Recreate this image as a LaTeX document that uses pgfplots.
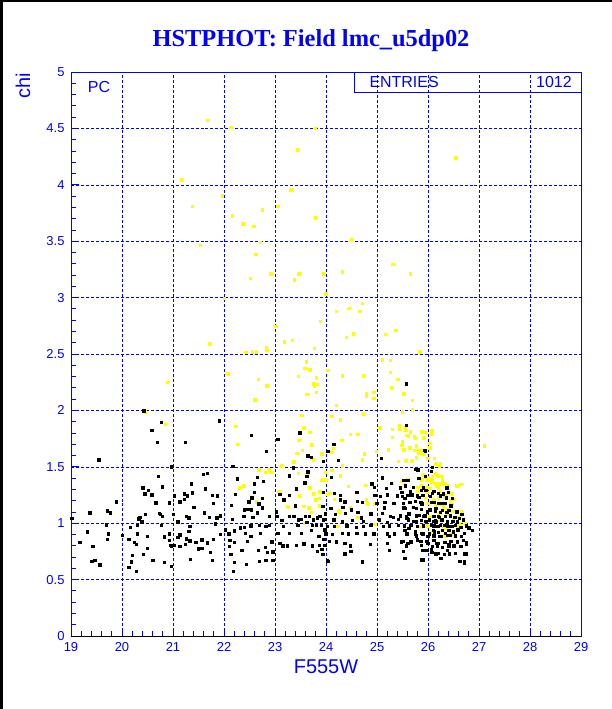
\documentclass[border=0pt]{standalone}
\usepackage{pgfplots}
\pgfplotsset{compat=1.18}
\usepackage{fontspec}
\setmainfont{Liberation Sans}
\newfontfamily\titlefont{Liberation Serif}
\definecolor{pawblue}{RGB}{0,0,255}
\definecolor{pawyellow}{RGB}{255,255,0}
\begin{document}
\begin{tikzpicture}
\useasboundingbox (0,0) rectangle (612bp,709bp);
\fill[white] (0,0) rectangle (612bp,709bp);
\fill[black] (0,0) rectangle (3bp,709bp);
\fill[black] (0,707bp) rectangle (612bp,709bp);
\node[anchor=base, text=pawblue, font=\titlefont\bfseries\fontsize{24.5}{28}\selectfont, inner sep=0] at (311bp,662bp) {HSTPHOT: Field lmc\_u5dp02};
\node[rotate=90, anchor=east, text=pawblue, font=\fontsize{20}{22}\selectfont, inner sep=0] at (23bp,636bp) {chi};
\begin{axis}[
  at={(71bp,73bp)}, anchor=south west, scale only axis, width=510bp, height=564bp,
  xmin=19, xmax=29, ymin=0, ymax=5,
  xtick={19,20,...,29}, ytick={0,0.5,...,5},
  minor x tick num=4, minor y tick num=4,
  tick align=inside, tick pos=left,
  major tick length=8bp, minor tick length=5bp,
  every tick/.style={pawblue, line width=0.8pt},
  axis line style={pawblue, line width=0.8pt},
  grid=major, major grid style={pawblue, densely dashed, line width=0.6pt},
  ticklabel style={text=pawblue, font=\fontsize{13}{15}\selectfont},
  xticklabel style={yshift=-3bp},
  yticklabel style={xshift=-3bp},
  /pgf/number format/assume math mode=true,
  xlabel={F555W}, xlabel style={text=pawblue, font=\fontsize{20}{22}\selectfont, yshift=-1bp},
  clip=false,
]
\addplot[only marks, mark=square*, mark size=1.2pt, mark options={draw=pawyellow, fill=pawyellow, line width=0pt}] coordinates {
(20.46,1.985)(20.89,2.246)(20.85,1.873)
(22.85,2.219)(23.75,2.234)(23.83,2.228)(23.77,2.216)(23.63,2.139)(23.81,2.157)(22.61,2.092)(23.53,1.953)(22.23,1.856)(23.57,1.844)(23.69,1.803)(23.47,1.735)(23.71,1.693)(22.27,1.696)(23.54,1.643)(23.43,1.619)(23.92,1.614)(23.75,1.560)(23.37,1.543)(23.14,1.507)(22.68,1.472)(22.70,1.472)(22.89,1.472)(22.82,1.448)(22.92,1.448)(23.99,1.451)(23.46,1.442)(23.63,1.430)(23.92,1.380)(23.99,1.383)(22.39,1.330)(22.31,1.312)(23.69,1.312)(23.08,1.277)(23.88,1.277)(23.75,1.259)(24.03,1.256)(23.48,1.241)(23.87,1.220)(23.79,1.206)(22.64,1.188)(23.57,1.149)(23.67,1.135)(23.27,1.138)(23.24,1.147)(23.87,1.152)(23.71,1.093)(23.58,0.999)
(25.29,2.196)(24.79,2.145)(24.94,2.157)(24.79,2.128)(24.94,2.104)(25.53,2.145)(25.70,2.086)(24.20,2.045)(25.70,2.004)(25.50,1.986)(24.74,1.968)(24.11,1.944)(24.29,1.915)(25.44,1.862)(25.44,1.832)(25.56,1.850)(25.06,1.844)(25.30,1.832)(25.66,1.808)(25.87,1.808)(24.48,1.785)(24.63,1.785)(25.59,1.779)(25.30,1.761)(25.74,1.767)(24.31,1.732)(25.50,1.720)(25.49,1.690)(26.05,1.708)(25.65,1.667)(24.15,1.661)(24.11,1.625)(25.54,1.655)(25.23,1.649)(25.74,1.643)(25.82,1.619)(24.75,1.614)(24.99,1.637)(25.91,1.614)(26.00,1.572)(24.71,1.560)(25.42,1.549)(25.58,1.549)(25.70,1.555)(26.16,1.519)(24.32,1.507)(24.12,1.466)(24.00,1.377)(23.94,1.383)(24.28,1.418)(25.90,1.430)(25.96,1.407)(26.19,1.418)(26.27,1.413)(25.30,1.353)(25.48,1.371)(25.61,1.383)(24.78,1.336)(24.44,1.324)(25.88,1.330)(25.80,1.318)(25.80,1.282)(25.98,1.318)(26.08,1.365)(26.16,1.348)(26.21,1.324)(26.34,1.342)(24.07,1.265)(24.03,1.253)(26.24,1.282)(24.17,1.212)(24.79,1.206)(25.95,1.218)(26.21,1.224)(26.44,1.200)(24.81,1.170)(24.96,1.170)(24.48,1.135)(25.70,1.141)(26.15,1.158)(26.30,1.135)(24.24,1.111)(24.27,1.099)(24.63,1.052)(24.96,0.987)(24.23,0.970)(25.99,0.981)
(25.53,2.145)(25.50,1.989)(25.57,1.820)(25.88,1.808)(25.96,1.803)(26.08,1.820)(26.07,1.791)(25.62,1.767)(25.75,1.749)(25.92,1.755)(25.50,1.690)(25.77,1.684)(25.79,1.643)(26.04,1.708)(26.04,1.667)(25.53,1.649)(25.87,1.643)(25.91,1.614)(25.69,1.549)(25.77,1.578)(26.13,1.572)(25.57,1.555)(26.17,1.525)(26.23,1.507)(26.25,1.525)(27.11,1.684)(25.92,1.424)(26.00,1.407)(25.88,1.383)(25.98,1.377)(26.09,1.413)(26.08,1.383)(26.15,1.436)(26.21,1.418)(26.29,1.383)(26.23,1.348)(26.17,1.330)(26.20,1.306)(26.30,1.348)(26.38,1.330)(26.57,1.330)(26.65,1.342)(25.54,1.342)(25.80,1.318)(26.04,1.306)(25.98,1.271)(26.33,1.247)(26.47,1.259)(26.12,1.212)(26.21,1.218)(26.32,1.229)(26.50,1.212)(26.00,1.176)(26.23,1.164)(26.44,1.176)(26.47,1.164)(26.15,1.129)(26.30,1.147)(26.38,1.123)(26.49,1.105)(26.66,1.105)(26.23,1.082)(26.37,1.082)(26.04,1.058)(26.61,1.052)(26.21,1.028)(26.50,1.023)(26.74,0.993)(25.95,0.975)(26.00,0.970)(26.28,0.970)(26.34,0.957)(26.58,0.970)(26.61,0.993)(25.83,0.970)(26.30,0.886)(26.36,0.881)(26.45,0.904)(26.07,0.916)
(21.68,4.569)(22.14,4.510)(23.79,4.498)(23.44,4.309)(21.17,4.043)(23.31,3.954)(21.97,3.901)(21.38,3.806)(22.76,3.777)(23.06,3.806)(23.79,3.706)(22.17,3.724)(22.37,3.653)(22.59,3.629)(22.71,3.487)(21.54,3.464)(22.63,3.381)(22.92,3.209)(23.47,3.209)(22.52,3.171)(23.38,3.156)(22.01,2.994)(23.02,2.743)(23.89,2.790)(21.72,2.589)(23.34,2.618)(23.19,2.607)(23.77,2.548)(22.83,2.554)(22.84,2.530)(22.43,2.512)(22.56,2.518)(22.64,2.518)(23.62,2.429)(23.59,2.370)(23.69,2.358)(23.46,2.299)(23.81,2.287)(22.08,2.323)(22.68,2.276)(22.84,2.217)
(26.55,4.238)(24.50,3.511)(25.31,3.292)(23.96,3.209)(24.32,3.227)(25.66,3.209)(24.00,3.032)(24.71,2.949)(24.45,2.902)(24.20,2.879)(24.67,2.879)(24.54,2.678)(24.40,2.648)(25.17,2.672)(25.37,2.707)(25.84,2.518)(25.11,2.447)(25.27,2.441)(25.27,2.335)(24.32,2.305)(24.73,2.305)(25.41,2.276)(25.29,2.199)(24.04,2.353)
};
\addplot[only marks, mark=square*, mark size=1.2pt, mark options={draw=black, fill=black, line width=0pt}] coordinates {
(20.43,1.995)(20.77,1.894)(20.59,1.823)(20.70,1.714)(21.25,1.714)(19.55,1.560)(20.97,1.498)(20.71,1.413)(20.41,1.312)(20.79,1.321)(20.52,1.29)(20.45,1.26)(20.59,1.25)(21.36,1.348)(21.22,1.259)(21.38,1.268)(21.29,1.241)(21.14,1.188)(21.22,1.209)(21.03,1.241)(20.93,1.179)(20.67,1.179)(19.89,1.188)(21.41,1.138)(19.71,1.108)(19.77,1.090)(19.37,1.090)(20.74,1.087)(20.76,1.076)(20.46,1.076)(20.79,1.058)(21.01,1.076)(20.35,1.049)(20.33,1.037)(21.27,1.058)(21.31,1.046)(21.10,1.011)(19.02,1.040)(20.39,1.011)(19.70,0.984)(20.30,0.978)(20.78,0.978)(21.33,0.970)(20.17,0.960)(19.32,0.922)(19.74,0.904)(20.30,0.904)(20.01,0.89)(20.93,0.904)(21.31,0.925)(20.50,0.881)(20.83,0.878)(21.14,0.895)(21.10,0.872)(19.71,0.857)(20.14,0.857)(20.93,0.845)(21.27,0.860)(21.33,0.842)(19.18,0.827)(20.24,0.827)(20.28,0.810)(20.95,0.801)(21.02,0.801)(20.97,0.792)(21.14,0.792)(21.24,0.810)(21.45,0.827)(21.50,0.771)(19.43,0.792)(20.50,0.777)(20.42,0.721)(20.20,0.712)(21.34,0.677)(20.61,0.668)(19.41,0.659)(19.47,0.668)(19.57,0.630)(20.19,0.656)(20.83,0.650)(20.14,0.606)(20.28,0.570)(20.97,0.615)
(21.91,1.906)(22.54,1.776)(23.49,1.800)(23.06,1.743)(22.83,1.634)(23.71,1.581)(24.04,1.634)(23.95,1.546)(23.65,1.596)(22.18,1.501)(23.36,1.489)(23.65,1.454)(21.60,1.430)(21.68,1.442)(23.63,1.413)(23.29,1.419)(22.27,1.392)(22.66,1.404)(22.78,1.371)(22.60,1.348)(23.59,1.357)(21.64,1.303)(22.60,1.271)(22.23,1.253)(21.78,1.247)(21.87,1.241)(23.42,1.303)(23.10,1.253)(23.29,1.247)(22.55,1.223)(22.76,1.218)(23.18,1.206)(21.79,1.173)(22.49,1.188)(22.69,1.170)(22.15,1.155)(23.40,1.152)(22.76,1.135)(23.03,1.099)(22.40,1.117)(22.47,1.120)(22.54,1.117)(22.66,1.090)(21.62,1.090)(21.71,1.052)(21.86,1.046)(21.93,1.064)(22.17,1.034)(22.39,1.058)(22.57,1.052)(22.89,1.058)(23.04,1.058)(23.14,1.025)(23.29,1.058)(23.37,1.058)(23.46,1.028)(23.52,1.034)(23.60,1.058)(23.68,1.058)(23.75,1.028)(23.83,1.046)(23.88,1.058)(23.99,1.034)(23.63,1.005)(21.83,0.993)(22.40,0.960)(22.53,0.975)(22.70,0.981)(22.82,0.970)(22.89,0.981)(23.17,0.970)(23.45,0.981)(23.73,0.981)(23.81,0.981)(23.91,0.981)(22.03,0.940)(22.10,0.904)(22.20,0.931)(22.32,0.957)(22.42,0.910)(22.53,0.881)(22.71,0.910)(23.06,0.910)(23.28,0.910)(23.52,0.910)(23.71,0.934)(23.86,0.881)(23.98,0.940)(21.93,0.901)(21.57,0.851)(21.79,0.857)(22.12,0.845)(21.68,0.825)(22.20,0.827)(22.46,0.839)(22.94,0.833)(23.16,0.798)(23.24,0.798)(23.42,0.804)(23.57,0.816)(23.73,0.798)(23.87,0.804)(23.96,0.857)(23.10,0.822)(22.11,0.792)(22.81,0.786)(21.57,0.777)(22.96,0.745)(22.68,0.757)(22.85,0.739)(22.35,0.757)(21.74,0.739)(22.14,0.721)(23.83,0.750)(23.92,0.768)(21.78,0.668)(22.21,0.650)(22.44,0.633)(22.70,0.659)(22.82,0.668)(22.96,0.668)(24.03,0.665)(22.19,0.570)
(25.58,2.234)(24.16,1.696)(24.25,1.554)(23.95,1.549)(25.09,1.572)(25.95,1.637)(25.80,1.472)(26.09,1.495)(24.11,1.407)(24.90,1.348)(24.95,1.318)(25.11,1.401)(25.19,1.306)(25.29,1.353)(25.46,1.312)(25.49,1.271)(25.66,1.277)(25.91,1.312)(23.95,1.274)(24.17,1.265)(24.29,1.247)(24.61,1.271)(24.96,1.247)(25.07,1.235)(25.20,1.250)(25.40,1.241)(25.55,1.218)(25.69,1.250)(25.82,1.229)(26.09,1.265)(26.20,1.265)(26.30,1.259)(26.40,1.271)(24.28,1.206)(24.37,1.188)(24.62,1.194)(24.71,1.182)(25.00,1.176)(25.16,1.182)(25.33,1.176)(25.65,1.182)(25.86,1.182)(26.12,1.182)(26.27,1.176)(23.94,1.147)(24.10,1.132)(24.33,1.141)(24.50,1.117)(25.15,1.135)(25.32,1.052)(25.53,1.135)(25.78,1.129)(25.99,1.099)(26.16,1.129)(26.24,1.093)(26.37,1.093)(23.99,1.082)(24.19,1.076)(24.38,1.087)(24.63,1.093)(24.88,1.082)(25.11,1.087)(25.27,1.058)(25.46,1.064)(25.63,1.082)(25.82,1.070)(25.91,1.058)(26.12,1.058)(26.22,1.052)(26.34,1.058)(26.44,1.064)(23.95,1.028)(24.16,1.028)(24.32,1.011)(24.52,1.023)(24.70,1.046)(24.74,1.017)(25.05,1.028)(25.20,1.005)(25.42,1.034)(25.59,1.040)(25.71,1.017)(25.87,1.023)(26.03,1.028)(26.15,1.023)(26.28,1.028)(26.38,1.011)(24.03,0.970)(24.17,0.970)(24.41,0.975)(24.60,0.963)(24.73,0.970)(24.88,0.981)(25.13,0.970)(25.25,0.975)(25.42,0.981)(25.54,0.975)(25.63,0.951)(25.79,0.970)(25.91,0.975)(26.12,0.975)(26.21,0.970)(26.32,0.981)(26.41,0.970)(24.00,0.904)(24.13,0.898)(24.32,0.910)(24.44,0.904)(24.61,0.910)(24.77,0.904)(24.94,0.904)(25.20,0.904)(25.25,0.881)(25.34,0.904)(25.59,0.904)(25.75,0.898)(25.88,0.910)(26.03,0.904)(26.13,0.922)(26.22,0.881)(26.34,0.910)(26.44,0.892)(24.20,0.833)(24.37,0.822)(24.48,0.798)(23.98,0.804)(24.07,0.839)(24.87,0.810)(25.20,0.822)(25.48,0.833)(25.61,0.822)(25.86,0.839)(26.00,0.822)(26.17,0.822)(26.32,0.827)(26.41,0.810)(24.49,0.750)(24.37,0.727)(25.25,0.757)(25.52,0.750)(25.90,0.757)(26.07,0.762)(26.20,0.733)(26.38,0.757)(23.94,0.721)(24.04,0.659)(24.71,0.656)(25.88,0.674)(26.16,0.721)(26.25,0.686)
(25.58,1.868)(25.94,1.643)(25.75,1.477)(25.53,1.380)(25.61,1.377)(25.82,1.395)(25.95,1.413)(26.07,1.460)(25.56,1.330)(25.71,1.318)(25.87,1.288)(25.96,1.288)(26.12,1.282)(26.37,1.312)(25.50,1.235)(25.61,1.247)(25.79,1.241)(25.90,1.247)(26.05,1.235)(26.25,1.241)(26.36,1.224)(26.48,1.218)(25.52,1.176)(25.75,1.194)(25.88,1.170)(26.07,1.182)(26.20,1.176)(26.33,1.176)(26.45,1.152)(25.55,1.129)(25.71,1.141)(25.87,1.123)(26.04,1.117)(26.15,1.105)(26.29,1.111)(26.41,1.111)(26.57,1.099)(26.67,1.076)(25.58,1.058)(25.78,1.064)(25.94,1.064)(26.12,1.058)(26.21,1.058)(26.34,1.058)(26.44,1.064)(26.53,1.052)(26.62,1.040)(25.62,1.028)(25.78,1.011)(25.96,1.017)(26.11,1.017)(26.16,1.011)(26.26,1.023)(26.38,1.017)(26.49,1.017)(26.58,1.011)(26.70,1.028)(25.54,0.981)(25.67,0.981)(26.07,0.981)(26.16,0.970)(26.24,0.981)(26.38,0.975)(26.47,0.970)(26.54,0.981)(26.65,0.963)(26.75,0.975)(25.55,0.934)(25.75,0.922)(25.90,0.904)(26.11,0.934)(26.20,0.916)(26.28,0.934)(26.41,0.934)(26.50,0.922)(26.59,0.940)(26.71,0.910)(26.80,0.957)(25.78,0.886)(26.00,0.881)(26.12,0.886)(26.26,0.881)(26.38,0.892)(26.54,0.886)(26.66,0.881)(26.87,0.934)(25.52,0.839)(25.67,0.833)(25.79,0.851)(25.98,0.839)(26.12,0.845)(26.21,0.822)(26.33,0.827)(26.45,0.839)(26.58,0.833)(26.70,0.845)(26.76,0.827)(25.58,0.798)(25.87,0.804)(26.09,0.792)(26.19,0.798)(26.29,0.786)(26.41,0.792)(26.51,0.798)(26.65,0.792)(26.76,0.810)(25.98,0.757)(26.08,0.739)(26.16,0.727)(26.32,0.721)(26.42,0.727)(26.54,0.733)(26.71,0.727)(26.76,0.727)(25.55,0.686)(25.90,0.674)(26.26,0.686)(26.63,0.662)(26.71,0.662)(26.71,0.644)
};
\draw[black, line width=0.8pt] (rel axis cs:0,0) -- (rel axis cs:1,0);
\draw[pawblue, line width=0.8pt] (rel axis cs:0.555,1) rectangle (rel axis cs:1,0.963);
\node[anchor=west, text=pawblue, font=\fontsize{16}{18}\selectfont, inner sep=0] at (rel axis cs:0.585,0.9815) {ENTRIES};
\node[anchor=east, text=pawblue, font=\fontsize{16}{18}\selectfont, inner sep=0] at (rel axis cs:0.982,0.9815) {1012};
\node[anchor=center, text=pawblue, font=\fontsize{16}{18}\selectfont, inner sep=0] at (rel axis cs:0.055,0.973) {PC};
\end{axis}
\end{tikzpicture}
\end{document}
